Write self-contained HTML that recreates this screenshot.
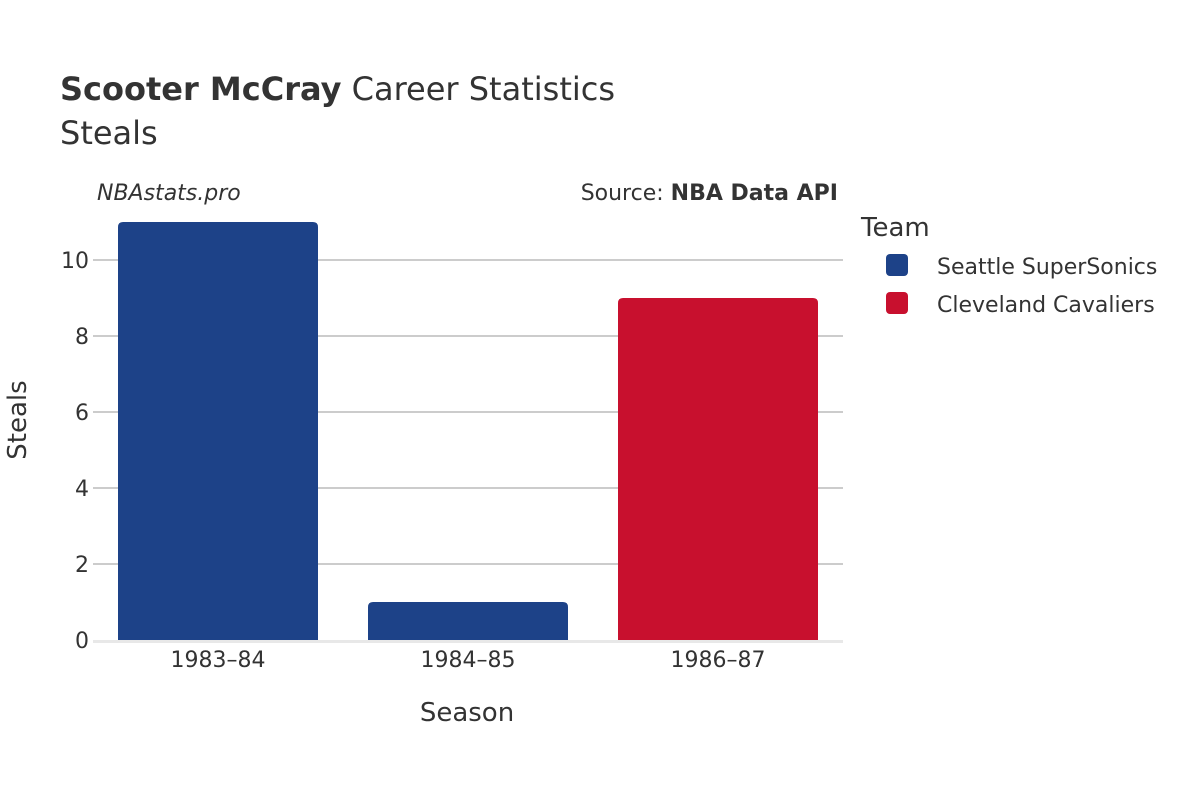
<!DOCTYPE html>
<html><head><meta charset="utf-8"><style>
body{margin:0;background:#fff;}
svg{display:block;font-family:"DejaVu Sans","Liberation Sans",sans-serif;}
</style></head><body>
<svg width="1200" height="800" viewBox="0 0 1200 800">
<text x="60" y="100" font-size="32" fill="#333"><tspan font-weight="bold">Scooter McCray</tspan> Career Statistics</text>
<text x="60" y="144" font-size="32" fill="#333">Steals</text>
<text x="97" y="200" font-size="22" font-style="italic" fill="#333">NBAstats.pro</text>
<text x="838" y="200" font-size="22" fill="#333" text-anchor="end">Source: <tspan font-weight="bold">NBA Data API</tspan></text>
<g id="grid"></g>
<g id="bars"></g>
<g id="xticks"></g>
<text x="467" y="721" font-size="26" fill="#333" text-anchor="middle">Season</text>
<text transform="translate(26,420) rotate(-90)" font-size="26" fill="#333" text-anchor="middle">Steals</text>
<g>
<text x="861" y="236" font-size="26" fill="#333">Team</text>
<g><rect x="886" y="254" width="22" height="22" rx="4" fill="#1d4288"/><text x="937" y="274" font-size="22" fill="#333">Seattle SuperSonics</text></g>
<g><rect x="886" y="292" width="22" height="22" rx="4" fill="#c8102e"/><text x="937" y="312" font-size="22" fill="#333">Cleveland Cavaliers</text></g>
</g>
</svg>
<script>
const categories=["1983–84","1984–85","1986–87"];
const values=[11,1,9];
const teams=["Seattle SuperSonics","Seattle SuperSonics","Cleveland Cavaliers"];
const yTicks=[0,2,4,6,8,10];
const colors={"Seattle SuperSonics":"#1d4288","Cleveland Cavaliers":"#c8102e"};
const NS="http://www.w3.org/2000/svg";
const x0=93,x1=843,y0=640,yScale=38;
const band=(x1-x0)/categories.length;
const y=v=>y0-v*yScale;
function mk(t,a,p){const e=document.createElementNS(NS,t);for(const k in a)e.setAttribute(k,a[k]);p.appendChild(e);return e;}
const grid=document.getElementById('grid');
yTicks.forEach(t=>{
 if(t>0){const l=mk('line',{x1:x0,x2:x1,y1:y(t),y2:y(t),stroke:'#bbb','stroke-width':1.5},grid);
 
 }
 const tx=mk('text',{x:x0-4,y:y(t)+8,'font-size':22,fill:'#333','text-anchor':'end'},grid);tx.textContent=t;
 
 
});
const bars=document.getElementById('bars');
categories.forEach((c,i)=>{
 const bx=x0+band*i+band*0.1,bw=band*0.8,top=y(values[i]),h=y0-top,r=5;
 const p=mk('path',{d:`M${bx},${y0}V${top+r}Q${bx},${top} ${bx+r},${top}H${bx+bw-r}Q${bx+bw},${top} ${bx+bw},${top+r}V${y0}Z`,fill:colors[teams[i]]},bars);
 
 
 const tx=mk('text',{x:x0+band*(i+0.5),y:667,'font-size':22,fill:'#333','text-anchor':'middle'},document.getElementById('xticks'));tx.textContent=c;
 
 
});
const base=mk('line',{x1:x0,x2:x1,y1:y0+1.5,y2:y0+1.5,stroke:'#e8e8e8','stroke-width':3},bars);


</script>
</body></html>
